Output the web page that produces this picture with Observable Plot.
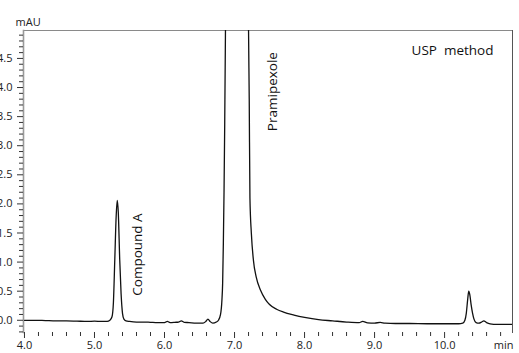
<!DOCTYPE html>
<html>
<head>
<meta charset="utf-8">
<script src="https://cdn.jsdelivr.net/npm/d3@7"></script>
<script src="https://cdn.jsdelivr.net/npm/@observablehq/plot@0.6"></script>
<style>
  html, body { margin: 0; padding: 0; background: #fff; }
  svg { display: block; }
</style>
</head>
<body>
<div id="chart"></div>
<script>
// Chromatogram trace: retention time (min) and absorbance (mAU)
const times = [
  4.00, 4.15, 4.30, 4.45, 4.60, 4.75, 4.90, 5.00, 5.10, 5.18, 5.22, 5.25, 5.27, 5.29, 5.31, 5.325,
  5.34, 5.36, 5.38, 5.40, 5.42, 5.45, 5.50, 5.60, 5.70, 5.80, 5.90, 6.00, 6.04, 6.08, 6.15, 6.20,
  6.24, 6.28, 6.35, 6.45, 6.55, 6.59, 6.62, 6.65, 6.69, 6.74, 6.77, 6.80, 6.82, 6.83, 6.84, 6.85,
  6.86, 6.87, 6.88, 6.95, 7.03, 7.12, 7.19, 7.20, 7.21, 7.22, 7.24, 7.27, 7.31, 7.37, 7.44, 7.50,
  7.60, 7.70, 7.85, 8.00, 8.20, 8.40, 8.60, 8.78, 8.83, 8.90, 9.00, 9.08, 9.15, 9.30, 9.50, 9.75,
  10.00, 10.20, 10.26, 10.29, 10.31, 10.33, 10.345, 10.36, 10.38, 10.40, 10.42, 10.45, 10.49, 10.53,
  10.56, 10.60, 10.65, 10.75, 10.85, 10.97
];
const mAU = [
  0.00, 0.00, -0.005, -0.01, -0.01, -0.015, -0.02, -0.015, -0.02, -0.02, 0.00, 0.06, 0.30, 1.05, 1.80, 2.06,
  1.85, 1.05, 0.45, 0.12, 0.02, -0.01, -0.02, -0.03, -0.03, -0.035, -0.04, -0.04, -0.02, -0.04, -0.035, -0.03,
  -0.01, -0.035, -0.04, -0.05, -0.05, -0.02, 0.02, -0.02, -0.05, -0.03, 0.00, 0.10, 0.35, 0.63, 1.30, 2.20,
  3.40, 4.90, 6.50, 30.0, 45.0, 30.0, 7.00, 5.00, 3.80, 2.10, 1.50, 1.03, 0.74, 0.52, 0.36, 0.27,
  0.19, 0.14, 0.09, 0.05, 0.01, -0.01, -0.03, -0.04, -0.02, -0.045, -0.05, -0.035, -0.05, -0.055, -0.055, -0.06,
  -0.06, -0.06, -0.05, 0.00, 0.12, 0.36, 0.50, 0.44, 0.26, 0.12, 0.02, -0.04, -0.05, -0.03,
  -0.01, -0.04, -0.06, -0.07, -0.07, -0.07
];

// Axis ticks
const xMajorTicks = [4, 5, 6, 7, 8, 9, 10];
const xMinorTicks = [4.2, 4.4, 4.6, 4.8, 5.2, 5.4, 5.6, 5.8, 6.2, 6.4, 6.6, 6.8, 7.2, 7.4, 7.6, 7.8,
                     8.2, 8.4, 8.6, 8.8, 9.2, 9.4, 9.6, 9.8, 10.2, 10.4, 10.6, 10.8];
const yMajorTicks = [0, 0.5, 1, 1.5, 2, 2.5, 3, 3.5, 4, 4.5];
const yMinorTicks = [-0.2, -0.1, 0.1, 0.2, 0.3, 0.4, 0.6, 0.7, 0.8, 0.9, 1.1, 1.2, 1.3, 1.4, 1.6, 1.7, 1.8, 1.9,
                     2.1, 2.2, 2.3, 2.4, 2.6, 2.7, 2.8, 2.9, 3.1, 3.2, 3.3, 3.4, 3.6, 3.7, 3.8, 3.9,
                     4.1, 4.2, 4.3, 4.4, 4.6, 4.7, 4.8, 4.9];

// Peak annotations
const peakNames = ["Compound A", "Pramipexole"];
const peakLabelTimes = [5.61, 7.54];
const peakLabelLevels = [1.13, 3.93];

const methodName = ["USP\u00a0 method"];
const yUnit = "mAU";
const xUnit = "min";

const trace = times.map((t, i) => ({t, v: mAU[i]}));
const labels = peakNames.map((name, i) => ({name, t: peakLabelTimes[i], v: peakLabelLevels[i]}));

const font = "'Open Sans', 'Noto Sans', sans-serif";

const chart = Plot.plot({
  width: 519,
  height: 353,
  marginLeft: 23,
  marginRight: 7,
  marginTop: 30,
  marginBottom: 21,
  style: {fontFamily: font, fontSize: "11px", color: "#222", background: "#fff"},
  x: {domain: [3.986, 10.97], label: null},
  y: {domain: [-0.21, 4.98], label: null},
  marks: [
    Plot.frame({anchor: "top", stroke: "#8a8a8a"}),
    Plot.frame({anchor: "right", stroke: "#555"}),
    Plot.frame({anchor: "left", stroke: "#999", strokeWidth: 1.6}),
    Plot.axisX({ticks: xMinorTicks, tickSize: 4, text: null, stroke: "#333", label: null}),
    Plot.axisX({ticks: xMajorTicks, tickSize: 6, tickPadding: 3, tickFormat: d3.format(".1f"),
                stroke: "#333", fill: "#222", fontSize: 11, label: null}),
    Plot.axisY({ticks: yMinorTicks, tickSize: 4, text: null, stroke: "#333", label: null}),
    Plot.axisY({ticks: yMajorTicks, tickSize: 6, tickPadding: 5, tickFormat: d3.format(".1f"),
                stroke: "#333", fill: "#222", fontSize: 11, label: null}),
    Plot.line(trace, {x: "t", y: "v", curve: "monotone-x", stroke: "#111", strokeWidth: 1.3, clip: true}),
    Plot.text(labels, {x: "t", y: "v", text: "name", rotate: -90, textAnchor: "middle",
                       fontSize: 13.5, fill: "#111"}),
    Plot.text(methodName, {frameAnchor: "top-right", dx: -19, dy: 15, textAnchor: "end",
                           fontSize: 13.5, fill: "#111"}),
    Plot.text([yUnit], {frameAnchor: "top-left", dx: -8, dy: -12, textAnchor: "start",
                        fontSize: 11, fill: "#222"}),
    Plot.text([xUnit], {frameAnchor: "bottom-right", dx: 1, dy: 16, textAnchor: "end",
                        fontSize: 11, fill: "#222"})
  ]
});
document.getElementById("chart").appendChild(chart);
</script>
</body>
</html>
